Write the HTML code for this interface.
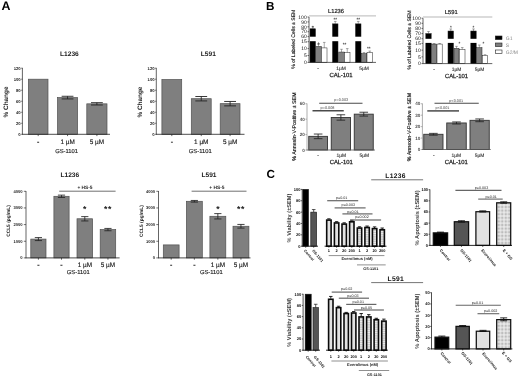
<!DOCTYPE html>
<html><head><meta charset="utf-8"><title>Figure</title>
<style>
html,body{margin:0;padding:0;background:#fff;}
body{width:520px;height:378px;overflow:hidden;}
svg{display:block;font-family:"Liberation Sans",sans-serif;text-rendering:geometricPrecision;filter:blur(0.4px);}
</style></head><body>
<svg width="520" height="378" viewBox="0 0 520 378">
<rect width="520" height="378" fill="#fff"/>
<text x="1.60" y="10.20" font-size="12.4" text-anchor="start" font-weight="bold" fill="#000">A</text>
<text x="266.10" y="10.20" font-size="11.7" text-anchor="start" font-weight="bold" fill="#000">B</text>
<text x="266.50" y="178.10" font-size="11.7" text-anchor="start" font-weight="bold" fill="#000">C</text>
<text x="69.40" y="55.50" font-size="6.6" text-anchor="middle" font-weight="bold" fill="#222">L1236</text>
<rect x="28.40" y="79.20" width="19.60" height="55.10" fill="#7f7f7f" stroke="#505050" stroke-width="0.7"/>
<rect x="57.50" y="97.60" width="20.10" height="36.70" fill="#7f7f7f" stroke="#505050" stroke-width="0.7"/>
<line x1="67.55" y1="96.28" x2="67.55" y2="98.93" stroke="#222" stroke-width="0.9"/>
<line x1="61.65" y1="96.28" x2="73.45" y2="96.28" stroke="#222" stroke-width="0.9"/>
<line x1="61.65" y1="98.93" x2="73.45" y2="98.93" stroke="#222" stroke-width="0.9"/>
<rect x="86.80" y="103.83" width="20.20" height="30.47" fill="#7f7f7f" stroke="#505050" stroke-width="0.7"/>
<line x1="96.90" y1="102.67" x2="96.90" y2="104.99" stroke="#222" stroke-width="0.9"/>
<line x1="91.00" y1="102.67" x2="102.80" y2="102.67" stroke="#222" stroke-width="0.9"/>
<line x1="91.00" y1="104.99" x2="102.80" y2="104.99" stroke="#222" stroke-width="0.9"/>
<line x1="22.40" y1="67.88" x2="22.40" y2="134.60" stroke="#222" stroke-width="0.7"/>
<line x1="21.20" y1="134.30" x2="22.40" y2="134.30" stroke="#222" stroke-width="0.63"/>
<text x="20.70" y="135.77" font-size="4.2" text-anchor="end" font-weight="bold" fill="#222">0</text>
<line x1="21.20" y1="123.28" x2="22.40" y2="123.28" stroke="#222" stroke-width="0.63"/>
<text x="20.70" y="124.75" font-size="4.2" text-anchor="end" font-weight="bold" fill="#222">20</text>
<line x1="21.20" y1="112.26" x2="22.40" y2="112.26" stroke="#222" stroke-width="0.63"/>
<text x="20.70" y="113.73" font-size="4.2" text-anchor="end" font-weight="bold" fill="#222">40</text>
<line x1="21.20" y1="101.24" x2="22.40" y2="101.24" stroke="#222" stroke-width="0.63"/>
<text x="20.70" y="102.71" font-size="4.2" text-anchor="end" font-weight="bold" fill="#222">60</text>
<line x1="21.20" y1="90.22" x2="22.40" y2="90.22" stroke="#222" stroke-width="0.63"/>
<text x="20.70" y="91.69" font-size="4.2" text-anchor="end" font-weight="bold" fill="#222">80</text>
<line x1="21.20" y1="79.20" x2="22.40" y2="79.20" stroke="#222" stroke-width="0.63"/>
<text x="20.70" y="80.67" font-size="4.2" text-anchor="end" font-weight="bold" fill="#222">100</text>
<line x1="21.20" y1="68.18" x2="22.40" y2="68.18" stroke="#222" stroke-width="0.63"/>
<text x="20.70" y="69.65" font-size="4.2" text-anchor="end" font-weight="bold" fill="#222">120</text>
<line x1="22.10" y1="134.30" x2="110.00" y2="134.30" stroke="#222" stroke-width="0.8"/>
<line x1="38.20" y1="134.30" x2="38.20" y2="136.10" stroke="#222" stroke-width="0.7"/>
<line x1="67.55" y1="134.30" x2="67.55" y2="136.10" stroke="#222" stroke-width="0.7"/>
<line x1="96.90" y1="134.30" x2="96.90" y2="136.10" stroke="#222" stroke-width="0.7"/>
<text x="38.20" y="144.40" font-size="7.0" text-anchor="middle" font-weight="bold" fill="#222" stroke="#222" stroke-width="0.15">-</text>
<text x="67.55" y="144.40" font-size="6.4" text-anchor="middle" font-weight="normal" fill="#222" stroke="#222" stroke-width="0.15">1 µM</text>
<text x="96.90" y="144.40" font-size="6.4" text-anchor="middle" font-weight="normal" fill="#222" stroke="#222" stroke-width="0.15">5 µM</text>
<text x="66.55" y="153.30" font-size="5.8" text-anchor="middle" font-weight="normal" fill="#222" stroke="#222" stroke-width="0.15">GS-1101</text>
<text x="7.60" y="102.00" font-size="6.4" text-anchor="middle" font-weight="bold" fill="#222" transform="rotate(-90 7.60 102.00)">% Change</text>
<text x="208.30" y="55.50" font-size="6.6" text-anchor="middle" font-weight="bold" fill="#222">L591</text>
<rect x="161.90" y="79.53" width="19.80" height="54.77" fill="#7f7f7f" stroke="#505050" stroke-width="0.7"/>
<rect x="191.30" y="98.71" width="19.90" height="35.59" fill="#7f7f7f" stroke="#505050" stroke-width="0.7"/>
<line x1="201.25" y1="96.50" x2="201.25" y2="100.91" stroke="#222" stroke-width="0.9"/>
<line x1="195.35" y1="96.50" x2="207.15" y2="96.50" stroke="#222" stroke-width="0.9"/>
<line x1="195.35" y1="100.91" x2="207.15" y2="100.91" stroke="#222" stroke-width="0.9"/>
<rect x="220.20" y="103.66" width="19.80" height="30.64" fill="#7f7f7f" stroke="#505050" stroke-width="0.7"/>
<line x1="230.10" y1="101.46" x2="230.10" y2="105.87" stroke="#222" stroke-width="0.9"/>
<line x1="224.20" y1="101.46" x2="236.00" y2="101.46" stroke="#222" stroke-width="0.9"/>
<line x1="224.20" y1="105.87" x2="236.00" y2="105.87" stroke="#222" stroke-width="0.9"/>
<line x1="156.30" y1="67.88" x2="156.30" y2="134.60" stroke="#222" stroke-width="0.7"/>
<line x1="155.10" y1="134.30" x2="156.30" y2="134.30" stroke="#222" stroke-width="0.63"/>
<text x="154.60" y="135.77" font-size="4.2" text-anchor="end" font-weight="bold" fill="#222">0</text>
<line x1="155.10" y1="123.28" x2="156.30" y2="123.28" stroke="#222" stroke-width="0.63"/>
<text x="154.60" y="124.75" font-size="4.2" text-anchor="end" font-weight="bold" fill="#222">20</text>
<line x1="155.10" y1="112.26" x2="156.30" y2="112.26" stroke="#222" stroke-width="0.63"/>
<text x="154.60" y="113.73" font-size="4.2" text-anchor="end" font-weight="bold" fill="#222">40</text>
<line x1="155.10" y1="101.24" x2="156.30" y2="101.24" stroke="#222" stroke-width="0.63"/>
<text x="154.60" y="102.71" font-size="4.2" text-anchor="end" font-weight="bold" fill="#222">60</text>
<line x1="155.10" y1="90.22" x2="156.30" y2="90.22" stroke="#222" stroke-width="0.63"/>
<text x="154.60" y="91.69" font-size="4.2" text-anchor="end" font-weight="bold" fill="#222">80</text>
<line x1="155.10" y1="79.20" x2="156.30" y2="79.20" stroke="#222" stroke-width="0.63"/>
<text x="154.60" y="80.67" font-size="4.2" text-anchor="end" font-weight="bold" fill="#222">100</text>
<line x1="155.10" y1="68.18" x2="156.30" y2="68.18" stroke="#222" stroke-width="0.63"/>
<text x="154.60" y="69.65" font-size="4.2" text-anchor="end" font-weight="bold" fill="#222">120</text>
<line x1="156.00" y1="134.30" x2="244.50" y2="134.30" stroke="#222" stroke-width="0.8"/>
<line x1="171.80" y1="134.30" x2="171.80" y2="136.10" stroke="#222" stroke-width="0.7"/>
<line x1="201.25" y1="134.30" x2="201.25" y2="136.10" stroke="#222" stroke-width="0.7"/>
<line x1="230.10" y1="134.30" x2="230.10" y2="136.10" stroke="#222" stroke-width="0.7"/>
<text x="171.80" y="144.40" font-size="7.0" text-anchor="middle" font-weight="bold" fill="#222" stroke="#222" stroke-width="0.15">-</text>
<text x="201.25" y="144.40" font-size="6.4" text-anchor="middle" font-weight="normal" fill="#222" stroke="#222" stroke-width="0.15">1 µM</text>
<text x="230.10" y="144.40" font-size="6.4" text-anchor="middle" font-weight="normal" fill="#222" stroke="#222" stroke-width="0.15">5 µM</text>
<text x="200.25" y="153.30" font-size="5.8" text-anchor="middle" font-weight="normal" fill="#222" stroke="#222" stroke-width="0.15">GS-1101</text>
<text x="142.20" y="102.00" font-size="6.4" text-anchor="middle" font-weight="bold" fill="#222" transform="rotate(-90 142.20 102.00)">% Change</text>
<text x="69.80" y="176.80" font-size="6.6" text-anchor="middle" font-weight="bold" fill="#222">L1236</text>
<text x="85.00" y="188.60" font-size="4.8" text-anchor="middle" font-weight="bold" fill="#222">+ HS-5</text>
<line x1="59.20" y1="191.20" x2="115.60" y2="191.20" stroke="#333" stroke-width="0.7"/>
<rect x="30.80" y="239.09" width="15.20" height="18.81" fill="#7f7f7f" stroke="#505050" stroke-width="0.7"/>
<line x1="38.40" y1="237.59" x2="38.40" y2="240.58" stroke="#222" stroke-width="0.85"/>
<line x1="34.80" y1="237.59" x2="42.00" y2="237.59" stroke="#222" stroke-width="0.85"/>
<line x1="34.80" y1="240.58" x2="42.00" y2="240.58" stroke="#222" stroke-width="0.85"/>
<rect x="53.90" y="196.30" width="15.20" height="61.60" fill="#7f7f7f" stroke="#505050" stroke-width="0.7"/>
<line x1="61.50" y1="195.13" x2="61.50" y2="197.46" stroke="#222" stroke-width="0.85"/>
<line x1="57.90" y1="195.13" x2="65.10" y2="195.13" stroke="#222" stroke-width="0.85"/>
<line x1="57.90" y1="197.46" x2="65.10" y2="197.46" stroke="#222" stroke-width="0.85"/>
<rect x="77.00" y="218.77" width="15.60" height="39.13" fill="#7f7f7f" stroke="#505050" stroke-width="0.7"/>
<line x1="84.80" y1="216.61" x2="84.80" y2="220.94" stroke="#222" stroke-width="0.85"/>
<line x1="81.20" y1="216.61" x2="88.40" y2="216.61" stroke="#222" stroke-width="0.85"/>
<line x1="81.20" y1="220.94" x2="88.40" y2="220.94" stroke="#222" stroke-width="0.85"/>
<rect x="100.20" y="229.59" width="15.50" height="28.30" fill="#7f7f7f" stroke="#505050" stroke-width="0.7"/>
<line x1="107.95" y1="228.43" x2="107.95" y2="230.76" stroke="#222" stroke-width="0.85"/>
<line x1="104.35" y1="228.43" x2="111.55" y2="228.43" stroke="#222" stroke-width="0.85"/>
<line x1="104.35" y1="230.76" x2="111.55" y2="230.76" stroke="#222" stroke-width="0.85"/>
<line x1="26.00" y1="191.00" x2="26.00" y2="258.20" stroke="#222" stroke-width="0.7"/>
<line x1="23.80" y1="257.90" x2="26.00" y2="257.90" stroke="#222" stroke-width="0.63"/>
<text x="22.60" y="259.33" font-size="4.1" text-anchor="end" font-weight="bold" fill="#222">0</text>
<line x1="23.80" y1="241.25" x2="26.00" y2="241.25" stroke="#222" stroke-width="0.63"/>
<text x="22.60" y="242.69" font-size="4.1" text-anchor="end" font-weight="bold" fill="#222">1000</text>
<line x1="23.80" y1="224.60" x2="26.00" y2="224.60" stroke="#222" stroke-width="0.63"/>
<text x="22.60" y="226.03" font-size="4.1" text-anchor="end" font-weight="bold" fill="#222">2000</text>
<line x1="23.80" y1="207.95" x2="26.00" y2="207.95" stroke="#222" stroke-width="0.63"/>
<text x="22.60" y="209.38" font-size="4.1" text-anchor="end" font-weight="bold" fill="#222">3000</text>
<line x1="23.80" y1="191.30" x2="26.00" y2="191.30" stroke="#222" stroke-width="0.63"/>
<text x="22.60" y="192.74" font-size="4.1" text-anchor="end" font-weight="bold" fill="#222">4000</text>
<line x1="25.70" y1="257.90" x2="119.60" y2="257.90" stroke="#222" stroke-width="0.8"/>
<line x1="38.40" y1="257.90" x2="38.40" y2="259.70" stroke="#222" stroke-width="0.7"/>
<line x1="61.50" y1="257.90" x2="61.50" y2="259.70" stroke="#222" stroke-width="0.7"/>
<line x1="84.80" y1="257.90" x2="84.80" y2="259.70" stroke="#222" stroke-width="0.7"/>
<line x1="107.95" y1="257.90" x2="107.95" y2="259.70" stroke="#222" stroke-width="0.7"/>
<text x="38.40" y="267.20" font-size="7.0" text-anchor="middle" font-weight="bold" fill="#222" stroke="#222" stroke-width="0.15">-</text>
<text x="61.50" y="267.20" font-size="7.0" text-anchor="middle" font-weight="bold" fill="#222" stroke="#222" stroke-width="0.15">-</text>
<text x="84.80" y="267.20" font-size="6.4" text-anchor="middle" font-weight="normal" fill="#222" stroke="#222" stroke-width="0.15">1 µM</text>
<text x="107.95" y="267.20" font-size="6.4" text-anchor="middle" font-weight="normal" fill="#222" stroke="#222" stroke-width="0.15">5 µM</text>
<text x="78.25" y="274.30" font-size="5.8" text-anchor="middle" font-weight="normal" fill="#222" stroke="#222" stroke-width="0.15">GS-1101</text>
<text x="10.40" y="221.00" font-size="4.85" text-anchor="middle" font-weight="bold" fill="#222" transform="rotate(-90 10.40 221.00)">CCL5 (pg/mL)</text>
<text x="84.80" y="212.20" font-size="8.6" text-anchor="middle" font-weight="bold" fill="#222">*</text>
<text x="107.95" y="212.20" font-size="8.6" text-anchor="middle" font-weight="bold" fill="#222" letter-spacing="0.6">**</text>
<text x="209.00" y="176.80" font-size="6.6" text-anchor="middle" font-weight="bold" fill="#222">L591</text>
<text x="216.90" y="188.60" font-size="4.8" text-anchor="middle" font-weight="bold" fill="#222">+ HS-5</text>
<line x1="191.60" y1="191.20" x2="246.50" y2="191.20" stroke="#333" stroke-width="0.7"/>
<rect x="163.30" y="244.91" width="15.80" height="12.99" fill="#7f7f7f" stroke="#505050" stroke-width="0.7"/>
<rect x="186.40" y="201.29" width="15.90" height="56.61" fill="#7f7f7f" stroke="#505050" stroke-width="0.7"/>
<line x1="194.35" y1="200.46" x2="194.35" y2="202.12" stroke="#222" stroke-width="0.85"/>
<line x1="190.75" y1="200.46" x2="197.95" y2="200.46" stroke="#222" stroke-width="0.85"/>
<line x1="190.75" y1="202.12" x2="197.95" y2="202.12" stroke="#222" stroke-width="0.85"/>
<rect x="209.90" y="216.28" width="15.90" height="41.62" fill="#7f7f7f" stroke="#505050" stroke-width="0.7"/>
<line x1="217.85" y1="213.61" x2="217.85" y2="218.94" stroke="#222" stroke-width="0.85"/>
<line x1="214.25" y1="213.61" x2="221.45" y2="213.61" stroke="#222" stroke-width="0.85"/>
<line x1="214.25" y1="218.94" x2="221.45" y2="218.94" stroke="#222" stroke-width="0.85"/>
<rect x="233.00" y="226.26" width="15.90" height="31.63" fill="#7f7f7f" stroke="#505050" stroke-width="0.7"/>
<line x1="240.95" y1="224.43" x2="240.95" y2="228.10" stroke="#222" stroke-width="0.85"/>
<line x1="237.35" y1="224.43" x2="244.55" y2="224.43" stroke="#222" stroke-width="0.85"/>
<line x1="237.35" y1="228.10" x2="244.55" y2="228.10" stroke="#222" stroke-width="0.85"/>
<line x1="158.50" y1="191.00" x2="158.50" y2="258.20" stroke="#222" stroke-width="0.7"/>
<line x1="156.30" y1="257.90" x2="158.50" y2="257.90" stroke="#222" stroke-width="0.63"/>
<text x="155.10" y="259.33" font-size="4.1" text-anchor="end" font-weight="bold" fill="#222">0</text>
<line x1="156.30" y1="241.25" x2="158.50" y2="241.25" stroke="#222" stroke-width="0.63"/>
<text x="155.10" y="242.69" font-size="4.1" text-anchor="end" font-weight="bold" fill="#222">1000</text>
<line x1="156.30" y1="224.60" x2="158.50" y2="224.60" stroke="#222" stroke-width="0.63"/>
<text x="155.10" y="226.03" font-size="4.1" text-anchor="end" font-weight="bold" fill="#222">2000</text>
<line x1="156.30" y1="207.95" x2="158.50" y2="207.95" stroke="#222" stroke-width="0.63"/>
<text x="155.10" y="209.38" font-size="4.1" text-anchor="end" font-weight="bold" fill="#222">3000</text>
<line x1="156.30" y1="191.30" x2="158.50" y2="191.30" stroke="#222" stroke-width="0.63"/>
<text x="155.10" y="192.74" font-size="4.1" text-anchor="end" font-weight="bold" fill="#222">4000</text>
<line x1="158.20" y1="257.90" x2="250.50" y2="257.90" stroke="#222" stroke-width="0.8"/>
<line x1="171.20" y1="257.90" x2="171.20" y2="259.70" stroke="#222" stroke-width="0.7"/>
<line x1="194.35" y1="257.90" x2="194.35" y2="259.70" stroke="#222" stroke-width="0.7"/>
<line x1="217.85" y1="257.90" x2="217.85" y2="259.70" stroke="#222" stroke-width="0.7"/>
<line x1="240.95" y1="257.90" x2="240.95" y2="259.70" stroke="#222" stroke-width="0.7"/>
<text x="171.20" y="267.20" font-size="7.0" text-anchor="middle" font-weight="bold" fill="#222" stroke="#222" stroke-width="0.15">-</text>
<text x="194.35" y="267.20" font-size="7.0" text-anchor="middle" font-weight="bold" fill="#222" stroke="#222" stroke-width="0.15">-</text>
<text x="217.85" y="267.20" font-size="6.4" text-anchor="middle" font-weight="normal" fill="#222" stroke="#222" stroke-width="0.15">1 µM</text>
<text x="240.95" y="267.20" font-size="6.4" text-anchor="middle" font-weight="normal" fill="#222" stroke="#222" stroke-width="0.15">5 µM</text>
<text x="211.30" y="274.30" font-size="5.8" text-anchor="middle" font-weight="normal" fill="#222" stroke="#222" stroke-width="0.15">GS-1101</text>
<text x="142.60" y="221.00" font-size="4.85" text-anchor="middle" font-weight="bold" fill="#222" transform="rotate(-90 142.60 221.00)">CCL5 (pg/mL)</text>
<text x="217.85" y="212.20" font-size="8.6" text-anchor="middle" font-weight="bold" fill="#222">*</text>
<text x="240.95" y="212.20" font-size="8.6" text-anchor="middle" font-weight="bold" fill="#222" letter-spacing="0.6">**</text>
<text x="336.00" y="13.30" font-size="5.8" text-anchor="middle" font-weight="normal" fill="#222" stroke="#222" stroke-width="0.2">L1236</text>
<line x1="309.00" y1="15.90" x2="376.00" y2="15.90" stroke="#9a9a9a" stroke-width="0.7"/>
<line x1="312.75" y1="26.80" x2="312.75" y2="28.76" stroke="#555" stroke-width="0.5"/>
<line x1="311.45" y1="26.80" x2="314.05" y2="26.80" stroke="#555" stroke-width="0.5"/>
<rect x="310.00" y="28.76" width="5.50" height="33.64" fill="#000" stroke="#222" stroke-width="0.5"/>
<line x1="318.50" y1="44.32" x2="318.50" y2="46.39" stroke="#555" stroke-width="0.5"/>
<line x1="317.20" y1="44.32" x2="319.80" y2="44.32" stroke="#555" stroke-width="0.5"/>
<rect x="315.75" y="46.39" width="5.50" height="16.01" fill="#7f7f7f" stroke="#222" stroke-width="0.5"/>
<line x1="324.25" y1="42.39" x2="324.25" y2="47.91" stroke="#555" stroke-width="0.5"/>
<line x1="322.95" y1="42.39" x2="325.55" y2="42.39" stroke="#555" stroke-width="0.5"/>
<rect x="321.50" y="47.91" width="5.50" height="14.49" fill="#fff" stroke="#222" stroke-width="0.5"/>
<line x1="335.25" y1="21.41" x2="335.25" y2="23.86" stroke="#555" stroke-width="0.5"/>
<line x1="333.95" y1="21.41" x2="336.55" y2="21.41" stroke="#555" stroke-width="0.5"/>
<rect x="332.50" y="23.86" width="5.50" height="38.54" fill="#000" stroke="#222" stroke-width="0.5"/>
<line x1="341.50" y1="49.29" x2="341.50" y2="52.05" stroke="#555" stroke-width="0.5"/>
<line x1="340.20" y1="49.29" x2="342.80" y2="49.29" stroke="#555" stroke-width="0.5"/>
<rect x="338.75" y="52.05" width="5.50" height="10.35" fill="#7f7f7f" stroke="#222" stroke-width="0.5"/>
<line x1="347.25" y1="48.60" x2="347.25" y2="52.74" stroke="#555" stroke-width="0.5"/>
<line x1="345.95" y1="48.60" x2="348.55" y2="48.60" stroke="#555" stroke-width="0.5"/>
<rect x="344.50" y="52.74" width="5.50" height="9.66" fill="#fff" stroke="#222" stroke-width="0.5"/>
<line x1="358.25" y1="21.41" x2="358.25" y2="23.86" stroke="#555" stroke-width="0.5"/>
<line x1="356.95" y1="21.41" x2="359.55" y2="21.41" stroke="#555" stroke-width="0.5"/>
<rect x="355.50" y="23.86" width="5.50" height="38.54" fill="#000" stroke="#222" stroke-width="0.5"/>
<line x1="364.00" y1="52.60" x2="364.00" y2="53.71" stroke="#555" stroke-width="0.5"/>
<line x1="362.70" y1="52.60" x2="365.30" y2="52.60" stroke="#555" stroke-width="0.5"/>
<rect x="361.25" y="53.71" width="5.50" height="8.69" fill="#7f7f7f" stroke="#222" stroke-width="0.5"/>
<line x1="369.75" y1="51.08" x2="369.75" y2="52.74" stroke="#555" stroke-width="0.5"/>
<line x1="368.45" y1="51.08" x2="371.05" y2="51.08" stroke="#555" stroke-width="0.5"/>
<rect x="367.00" y="52.74" width="5.50" height="9.66" fill="#fff" stroke="#222" stroke-width="0.5"/>
<rect x="309.60" y="36.70" width="66.00" height="4.50" fill="#fff"/>
<line x1="309.00" y1="17.00" x2="309.00" y2="62.40" stroke="#222" stroke-width="0.7"/>
<line x1="307.50" y1="62.40" x2="309.00" y2="62.40" stroke="#222" stroke-width="0.6"/>
<text x="306.70" y="64.10" font-size="5.0" text-anchor="end" font-weight="normal" fill="#111">0</text>
<line x1="307.50" y1="55.50" x2="309.00" y2="55.50" stroke="#222" stroke-width="0.6"/>
<text x="306.70" y="57.20" font-size="5.0" text-anchor="end" font-weight="normal" fill="#111">5</text>
<line x1="307.50" y1="48.60" x2="309.00" y2="48.60" stroke="#222" stroke-width="0.6"/>
<text x="306.70" y="50.30" font-size="5.0" text-anchor="end" font-weight="normal" fill="#111">10</text>
<line x1="307.50" y1="41.70" x2="309.00" y2="41.70" stroke="#222" stroke-width="0.6"/>
<text x="306.70" y="43.40" font-size="5.0" text-anchor="end" font-weight="normal" fill="#111">15</text>
<line x1="307.50" y1="36.60" x2="309.00" y2="36.60" stroke="#222" stroke-width="0.6"/>
<text x="306.70" y="38.30" font-size="5.0" text-anchor="end" font-weight="normal" fill="#111">60</text>
<line x1="307.50" y1="31.70" x2="309.00" y2="31.70" stroke="#222" stroke-width="0.6"/>
<text x="306.70" y="33.40" font-size="5.0" text-anchor="end" font-weight="normal" fill="#111">70</text>
<line x1="307.50" y1="26.80" x2="309.00" y2="26.80" stroke="#222" stroke-width="0.6"/>
<text x="306.70" y="28.50" font-size="5.0" text-anchor="end" font-weight="normal" fill="#111">80</text>
<line x1="307.50" y1="21.90" x2="309.00" y2="21.90" stroke="#222" stroke-width="0.6"/>
<text x="306.70" y="23.60" font-size="5.0" text-anchor="end" font-weight="normal" fill="#111">90</text>
<line x1="307.50" y1="17.00" x2="309.00" y2="17.00" stroke="#222" stroke-width="0.6"/>
<text x="306.70" y="18.70" font-size="5.0" text-anchor="end" font-weight="normal" fill="#111">100</text>
<line x1="308.70" y1="62.40" x2="376.00" y2="62.40" stroke="#222" stroke-width="0.7"/>
<text x="312.80" y="29.00" font-size="4.6" text-anchor="middle" font-weight="bold" fill="#333">*</text>
<text x="335.20" y="21.40" font-size="4.6" text-anchor="middle" font-weight="bold" fill="#333">**</text>
<text x="358.20" y="21.40" font-size="4.6" text-anchor="middle" font-weight="bold" fill="#333">**</text>
<text x="318.50" y="44.50" font-size="4.6" text-anchor="middle" font-weight="bold" fill="#333">+</text>
<text x="344.50" y="45.50" font-size="4.6" text-anchor="middle" font-weight="bold" fill="#333">**</text>
<text x="368.80" y="49.80" font-size="4.6" text-anchor="middle" font-weight="bold" fill="#333">**</text>
<text x="318.00" y="69.60" font-size="4.9" text-anchor="middle" font-weight="normal" fill="#333" stroke="#333" stroke-width="0.12">-</text>
<text x="341.00" y="69.60" font-size="4.9" text-anchor="middle" font-weight="normal" fill="#333" stroke="#333" stroke-width="0.12">1µM</text>
<text x="364.00" y="69.60" font-size="4.9" text-anchor="middle" font-weight="normal" fill="#333" stroke="#333" stroke-width="0.12">5µM</text>
<text x="341.00" y="76.60" font-size="5.9" text-anchor="middle" font-weight="normal" fill="#222" stroke="#222" stroke-width="0.25">CAL-101</text>
<text x="294.80" y="39.20" font-size="5.1" text-anchor="middle" font-weight="normal" fill="#111" transform="rotate(-90 294.80 39.20)" stroke="#111" stroke-width="0.15">% of Labeled Cells ± SEM</text>
<text x="451.20" y="14.40" font-size="5.8" text-anchor="middle" font-weight="normal" fill="#222" stroke="#222" stroke-width="0.2">L591</text>
<line x1="423.00" y1="17.00" x2="492.30" y2="17.00" stroke="#9a9a9a" stroke-width="0.7"/>
<line x1="428.50" y1="31.53" x2="428.50" y2="33.58" stroke="#555" stroke-width="0.5"/>
<line x1="427.20" y1="31.53" x2="429.80" y2="31.53" stroke="#555" stroke-width="0.5"/>
<rect x="425.80" y="33.58" width="5.40" height="30.02" fill="#000" stroke="#222" stroke-width="0.5"/>
<line x1="434.10" y1="43.53" x2="434.10" y2="44.07" stroke="#555" stroke-width="0.5"/>
<line x1="432.80" y1="43.53" x2="435.40" y2="43.53" stroke="#555" stroke-width="0.5"/>
<rect x="431.60" y="44.07" width="5.00" height="19.53" fill="#7f7f7f" stroke="#222" stroke-width="0.5"/>
<line x1="439.60" y1="43.53" x2="439.60" y2="44.07" stroke="#555" stroke-width="0.5"/>
<line x1="438.30" y1="43.53" x2="440.90" y2="43.53" stroke="#555" stroke-width="0.5"/>
<rect x="437.00" y="44.07" width="5.20" height="19.53" fill="#fff" stroke="#222" stroke-width="0.5"/>
<line x1="450.75" y1="28.96" x2="450.75" y2="31.01" stroke="#555" stroke-width="0.5"/>
<line x1="449.45" y1="28.96" x2="452.05" y2="28.96" stroke="#555" stroke-width="0.5"/>
<rect x="448.00" y="31.01" width="5.50" height="32.59" fill="#000" stroke="#222" stroke-width="0.5"/>
<line x1="456.50" y1="46.36" x2="456.50" y2="48.38" stroke="#555" stroke-width="0.5"/>
<line x1="455.20" y1="46.36" x2="457.80" y2="46.36" stroke="#555" stroke-width="0.5"/>
<rect x="454.00" y="48.38" width="5.00" height="15.22" fill="#7f7f7f" stroke="#222" stroke-width="0.5"/>
<line x1="462.25" y1="47.57" x2="462.25" y2="49.59" stroke="#555" stroke-width="0.5"/>
<line x1="460.95" y1="47.57" x2="463.55" y2="47.57" stroke="#555" stroke-width="0.5"/>
<rect x="459.50" y="49.59" width="5.50" height="14.01" fill="#fff" stroke="#222" stroke-width="0.5"/>
<line x1="473.50" y1="28.96" x2="473.50" y2="31.01" stroke="#555" stroke-width="0.5"/>
<line x1="472.20" y1="28.96" x2="474.80" y2="28.96" stroke="#555" stroke-width="0.5"/>
<rect x="470.80" y="31.01" width="5.40" height="32.59" fill="#000" stroke="#222" stroke-width="0.5"/>
<line x1="479.30" y1="45.02" x2="479.30" y2="47.71" stroke="#555" stroke-width="0.5"/>
<line x1="478.00" y1="45.02" x2="480.60" y2="45.02" stroke="#555" stroke-width="0.5"/>
<rect x="476.60" y="47.71" width="5.40" height="15.89" fill="#7f7f7f" stroke="#222" stroke-width="0.5"/>
<line x1="485.05" y1="54.71" x2="485.05" y2="55.52" stroke="#555" stroke-width="0.5"/>
<line x1="483.75" y1="54.71" x2="486.35" y2="54.71" stroke="#555" stroke-width="0.5"/>
<rect x="482.40" y="55.52" width="5.30" height="8.08" fill="#fff" stroke="#222" stroke-width="0.5"/>
<rect x="423.60" y="38.80" width="68.30" height="4.10" fill="#fff"/>
<line x1="423.00" y1="18.20" x2="423.00" y2="63.60" stroke="#222" stroke-width="0.7"/>
<line x1="421.50" y1="63.60" x2="423.00" y2="63.60" stroke="#222" stroke-width="0.6"/>
<text x="420.70" y="65.30" font-size="5.0" text-anchor="end" font-weight="normal" fill="#111">0</text>
<line x1="421.50" y1="56.87" x2="423.00" y2="56.87" stroke="#222" stroke-width="0.6"/>
<text x="420.70" y="58.57" font-size="5.0" text-anchor="end" font-weight="normal" fill="#111">5</text>
<line x1="421.50" y1="50.13" x2="423.00" y2="50.13" stroke="#222" stroke-width="0.6"/>
<text x="420.70" y="51.83" font-size="5.0" text-anchor="end" font-weight="normal" fill="#111">10</text>
<line x1="421.50" y1="43.40" x2="423.00" y2="43.40" stroke="#222" stroke-width="0.6"/>
<text x="420.70" y="45.10" font-size="5.0" text-anchor="end" font-weight="normal" fill="#111">15</text>
<line x1="421.50" y1="38.70" x2="423.00" y2="38.70" stroke="#222" stroke-width="0.6"/>
<text x="420.70" y="40.40" font-size="5.0" text-anchor="end" font-weight="normal" fill="#111">60</text>
<line x1="421.50" y1="33.58" x2="423.00" y2="33.58" stroke="#222" stroke-width="0.6"/>
<text x="420.70" y="35.28" font-size="5.0" text-anchor="end" font-weight="normal" fill="#111">70</text>
<line x1="421.50" y1="28.45" x2="423.00" y2="28.45" stroke="#222" stroke-width="0.6"/>
<text x="420.70" y="30.15" font-size="5.0" text-anchor="end" font-weight="normal" fill="#111">80</text>
<line x1="421.50" y1="23.32" x2="423.00" y2="23.32" stroke="#222" stroke-width="0.6"/>
<text x="420.70" y="25.02" font-size="5.0" text-anchor="end" font-weight="normal" fill="#111">90</text>
<line x1="421.50" y1="18.20" x2="423.00" y2="18.20" stroke="#222" stroke-width="0.6"/>
<text x="420.70" y="19.90" font-size="5.0" text-anchor="end" font-weight="normal" fill="#111">100</text>
<line x1="422.70" y1="63.60" x2="492.30" y2="63.60" stroke="#222" stroke-width="0.7"/>
<text x="450.80" y="29.20" font-size="4.6" text-anchor="middle" font-weight="bold" fill="#333">*</text>
<text x="473.40" y="29.20" font-size="4.6" text-anchor="middle" font-weight="bold" fill="#333">*</text>
<text x="459.50" y="44.50" font-size="4.6" text-anchor="middle" font-weight="bold" fill="#333">*</text>
<text x="483.50" y="44.50" font-size="4.6" text-anchor="middle" font-weight="bold" fill="#333">*</text>
<text x="434.00" y="70.60" font-size="4.9" text-anchor="middle" font-weight="normal" fill="#333" stroke="#333" stroke-width="0.12">-</text>
<text x="456.50" y="70.60" font-size="4.9" text-anchor="middle" font-weight="normal" fill="#333" stroke="#333" stroke-width="0.12">1µM</text>
<text x="479.60" y="70.60" font-size="4.9" text-anchor="middle" font-weight="normal" fill="#333" stroke="#333" stroke-width="0.12">5µM</text>
<text x="456.50" y="77.60" font-size="5.9" text-anchor="middle" font-weight="normal" fill="#222" stroke="#222" stroke-width="0.25">CAL-101</text>
<text x="410.50" y="40.00" font-size="5.1" text-anchor="middle" font-weight="normal" fill="#111" transform="rotate(-90 410.50 40.00)" stroke="#111" stroke-width="0.15">% of Labeled Cells ± SEM</text>
<rect x="495.30" y="36.00" width="6.70" height="3.60" fill="#000" stroke="#222" stroke-width="0.6"/>
<text x="505.80" y="39.60" font-size="5.0" text-anchor="start" font-weight="normal" fill="#8a8a8a">G1</text>
<rect x="495.30" y="43.00" width="6.70" height="3.60" fill="#7f7f7f" stroke="#222" stroke-width="0.6"/>
<text x="505.80" y="46.60" font-size="5.0" text-anchor="start" font-weight="normal" fill="#8a8a8a">S</text>
<rect x="495.30" y="50.00" width="6.70" height="3.60" fill="#fff" stroke="#222" stroke-width="0.6"/>
<text x="505.80" y="53.60" font-size="5.0" text-anchor="start" font-weight="normal" fill="#8a8a8a">G2/M</text>
<rect x="308.75" y="136.36" width="18.75" height="13.64" fill="#7f7f7f" stroke="#333" stroke-width="0.9"/>
<line x1="318.12" y1="134.04" x2="318.12" y2="138.67" stroke="#222" stroke-width="0.85"/>
<line x1="313.82" y1="134.04" x2="322.43" y2="134.04" stroke="#222" stroke-width="0.85"/>
<line x1="313.82" y1="138.67" x2="322.43" y2="138.67" stroke="#222" stroke-width="0.85"/>
<rect x="331.25" y="117.47" width="19.25" height="32.53" fill="#7f7f7f" stroke="#333" stroke-width="0.9"/>
<line x1="340.88" y1="114.77" x2="340.88" y2="120.17" stroke="#222" stroke-width="0.85"/>
<line x1="336.57" y1="114.77" x2="345.18" y2="114.77" stroke="#222" stroke-width="0.85"/>
<line x1="336.57" y1="120.17" x2="345.18" y2="120.17" stroke="#222" stroke-width="0.85"/>
<rect x="354.25" y="114.16" width="19.00" height="35.84" fill="#7f7f7f" stroke="#333" stroke-width="0.9"/>
<line x1="363.75" y1="112.23" x2="363.75" y2="116.08" stroke="#222" stroke-width="0.85"/>
<line x1="359.45" y1="112.23" x2="368.05" y2="112.23" stroke="#222" stroke-width="0.85"/>
<line x1="359.45" y1="116.08" x2="368.05" y2="116.08" stroke="#222" stroke-width="0.85"/>
<line x1="307.00" y1="103.45" x2="307.00" y2="150.30" stroke="#8a8a8a" stroke-width="0.7"/>
<line x1="305.40" y1="150.00" x2="307.00" y2="150.00" stroke="#8a8a8a" stroke-width="0.63"/>
<text x="304.90" y="151.61" font-size="4.6" text-anchor="end" font-weight="bold" fill="#555">0</text>
<line x1="305.40" y1="134.58" x2="307.00" y2="134.58" stroke="#8a8a8a" stroke-width="0.63"/>
<text x="304.90" y="136.19" font-size="4.6" text-anchor="end" font-weight="bold" fill="#555">20</text>
<line x1="305.40" y1="119.17" x2="307.00" y2="119.17" stroke="#8a8a8a" stroke-width="0.63"/>
<text x="304.90" y="120.78" font-size="4.6" text-anchor="end" font-weight="bold" fill="#555">40</text>
<line x1="305.40" y1="103.75" x2="307.00" y2="103.75" stroke="#8a8a8a" stroke-width="0.63"/>
<text x="304.90" y="105.36" font-size="4.6" text-anchor="end" font-weight="bold" fill="#555">60</text>
<line x1="306.70" y1="150.00" x2="375.00" y2="150.00" stroke="#555" stroke-width="0.8"/>
<text x="341.25" y="101.30" font-size="3.8" text-anchor="middle" font-weight="normal" fill="#444">p=0.003</text>
<line x1="319.20" y1="103.30" x2="362.50" y2="103.30" stroke="#4a4a4a" stroke-width="1.1"/>
<text x="327.50" y="108.80" font-size="3.8" text-anchor="middle" font-weight="normal" fill="#444">p=0.008</text>
<line x1="312.50" y1="110.75" x2="343.75" y2="110.75" stroke="#4a4a4a" stroke-width="1.5"/>
<text x="318.00" y="156.60" font-size="4.9" text-anchor="middle" font-weight="normal" fill="#333" stroke="#333" stroke-width="0.12">-</text>
<text x="341.25" y="156.60" font-size="4.9" text-anchor="middle" font-weight="normal" fill="#333" stroke="#333" stroke-width="0.12">1µM</text>
<text x="364.25" y="156.60" font-size="4.9" text-anchor="middle" font-weight="normal" fill="#333" stroke="#333" stroke-width="0.12">5µM</text>
<text x="341.25" y="164.00" font-size="5.9" text-anchor="middle" font-weight="normal" fill="#222" stroke="#222" stroke-width="0.25">CAL-101</text>
<text x="295.60" y="126.50" font-size="5.35" text-anchor="middle" font-weight="normal" fill="#111" transform="rotate(-90 295.60 126.50)" stroke="#111" stroke-width="0.15">% Annexin-V-Positive ± SEM</text>
<rect x="423.75" y="134.29" width="19.25" height="15.21" fill="#7f7f7f" stroke="#333" stroke-width="0.9"/>
<line x1="433.38" y1="133.37" x2="433.38" y2="135.20" stroke="#222" stroke-width="0.85"/>
<line x1="429.07" y1="133.37" x2="437.68" y2="133.37" stroke="#222" stroke-width="0.85"/>
<line x1="429.07" y1="135.20" x2="437.68" y2="135.20" stroke="#222" stroke-width="0.85"/>
<rect x="446.75" y="122.97" width="19.50" height="26.53" fill="#7f7f7f" stroke="#333" stroke-width="0.9"/>
<line x1="456.50" y1="121.94" x2="456.50" y2="123.99" stroke="#222" stroke-width="0.85"/>
<line x1="452.20" y1="121.94" x2="460.80" y2="121.94" stroke="#222" stroke-width="0.85"/>
<line x1="452.20" y1="123.99" x2="460.80" y2="123.99" stroke="#222" stroke-width="0.85"/>
<rect x="470.00" y="120.33" width="19.25" height="29.17" fill="#7f7f7f" stroke="#333" stroke-width="0.9"/>
<line x1="479.62" y1="118.96" x2="479.62" y2="121.71" stroke="#222" stroke-width="0.85"/>
<line x1="475.32" y1="118.96" x2="483.93" y2="118.96" stroke="#222" stroke-width="0.85"/>
<line x1="475.32" y1="121.71" x2="483.93" y2="121.71" stroke="#222" stroke-width="0.85"/>
<line x1="422.40" y1="103.45" x2="422.40" y2="149.80" stroke="#8a8a8a" stroke-width="0.7"/>
<line x1="420.80" y1="149.50" x2="422.40" y2="149.50" stroke="#8a8a8a" stroke-width="0.63"/>
<text x="420.30" y="151.11" font-size="4.6" text-anchor="end" font-weight="bold" fill="#555">0</text>
<line x1="420.80" y1="138.06" x2="422.40" y2="138.06" stroke="#8a8a8a" stroke-width="0.63"/>
<text x="420.30" y="139.67" font-size="4.6" text-anchor="end" font-weight="bold" fill="#555">10</text>
<line x1="420.80" y1="126.62" x2="422.40" y2="126.62" stroke="#8a8a8a" stroke-width="0.63"/>
<text x="420.30" y="128.24" font-size="4.6" text-anchor="end" font-weight="bold" fill="#555">20</text>
<line x1="420.80" y1="115.19" x2="422.40" y2="115.19" stroke="#8a8a8a" stroke-width="0.63"/>
<text x="420.30" y="116.80" font-size="4.6" text-anchor="end" font-weight="bold" fill="#555">30</text>
<line x1="420.80" y1="103.75" x2="422.40" y2="103.75" stroke="#8a8a8a" stroke-width="0.63"/>
<text x="420.30" y="105.36" font-size="4.6" text-anchor="end" font-weight="bold" fill="#555">40</text>
<line x1="422.10" y1="149.50" x2="490.75" y2="149.50" stroke="#555" stroke-width="0.8"/>
<text x="456.25" y="101.70" font-size="3.8" text-anchor="middle" font-weight="normal" fill="#444">p&lt;0.001</text>
<line x1="434.50" y1="103.25" x2="478.75" y2="103.25" stroke="#4a4a4a" stroke-width="1.1"/>
<text x="442.50" y="108.90" font-size="3.8" text-anchor="middle" font-weight="normal" fill="#444">p&lt;0.001</text>
<line x1="427.30" y1="110.90" x2="459.00" y2="110.90" stroke="#4a4a4a" stroke-width="1.5"/>
<text x="433.75" y="157.00" font-size="4.9" text-anchor="middle" font-weight="normal" fill="#333" stroke="#333" stroke-width="0.12">-</text>
<text x="456.25" y="157.00" font-size="4.9" text-anchor="middle" font-weight="normal" fill="#333" stroke="#333" stroke-width="0.12">1µM</text>
<text x="479.50" y="157.00" font-size="4.9" text-anchor="middle" font-weight="normal" fill="#333" stroke="#333" stroke-width="0.12">5µM</text>
<text x="456.25" y="164.20" font-size="5.9" text-anchor="middle" font-weight="normal" fill="#222" stroke="#222" stroke-width="0.25">CAL-101</text>
<text x="410.60" y="127.00" font-size="5.35" text-anchor="middle" font-weight="normal" fill="#111" transform="rotate(-90 410.60 127.00)" stroke="#111" stroke-width="0.15">% Annexin-V-Positive ± SEM</text>
<defs><pattern id="hz" width="3.5" height="3.6" patternUnits="userSpaceOnUse"><rect width="3.5" height="3.6" fill="#f4f4f4"/><rect x="0.5" y="0.5" width="2.5" height="2.6" fill="#bcbcbc"/></pattern><pattern id="hz2" width="600" height="2.2" patternUnits="userSpaceOnUse"><rect width="600" height="2.2" fill="#cacaca"/><rect y="0" width="600" height="0.8" fill="#ececec"/></pattern></defs>
<rect x="302.90" y="189.40" width="5.60" height="56.80" fill="#000" stroke="#111" stroke-width="0.6"/>
<line x1="313.70" y1="209.56" x2="313.70" y2="212.12" stroke="#111" stroke-width="0.7"/>
<line x1="311.90" y1="209.56" x2="315.50" y2="209.56" stroke="#111" stroke-width="0.7"/>
<rect x="310.80" y="212.12" width="5.80" height="34.08" fill="#555" stroke="#111" stroke-width="0.6"/>
<line x1="328.90" y1="218.82" x2="328.90" y2="219.50" stroke="#111" stroke-width="0.9"/>
<line x1="327.20" y1="218.82" x2="330.60" y2="218.82" stroke="#111" stroke-width="0.9"/>
<rect x="326.70" y="220.10" width="4.40" height="26.10" fill="#e2e2e2" stroke="#0a0a0a" stroke-width="1.6"/>
<line x1="336.60" y1="221.66" x2="336.60" y2="222.34" stroke="#111" stroke-width="0.9"/>
<line x1="334.90" y1="221.66" x2="338.30" y2="221.66" stroke="#111" stroke-width="0.9"/>
<rect x="334.40" y="222.94" width="4.40" height="23.26" fill="#e2e2e2" stroke="#0a0a0a" stroke-width="1.6"/>
<line x1="344.20" y1="222.80" x2="344.20" y2="223.48" stroke="#111" stroke-width="0.9"/>
<line x1="342.50" y1="222.80" x2="345.90" y2="222.80" stroke="#111" stroke-width="0.9"/>
<rect x="342.00" y="224.08" width="4.40" height="22.12" fill="#e2e2e2" stroke="#0a0a0a" stroke-width="1.6"/>
<line x1="351.80" y1="220.30" x2="351.80" y2="221.21" stroke="#111" stroke-width="0.9"/>
<line x1="350.10" y1="220.30" x2="353.50" y2="220.30" stroke="#111" stroke-width="0.9"/>
<rect x="349.60" y="221.81" width="4.40" height="24.39" fill="#e2e2e2" stroke="#0a0a0a" stroke-width="1.6"/>
<line x1="359.50" y1="226.77" x2="359.50" y2="227.46" stroke="#111" stroke-width="0.9"/>
<line x1="357.80" y1="226.77" x2="361.20" y2="226.77" stroke="#111" stroke-width="0.9"/>
<rect x="357.30" y="228.06" width="4.40" height="18.14" fill="url(#hz2)" stroke="#0a0a0a" stroke-width="1.6"/>
<line x1="367.10" y1="226.04" x2="367.10" y2="226.89" stroke="#111" stroke-width="0.9"/>
<line x1="365.40" y1="226.04" x2="368.80" y2="226.04" stroke="#111" stroke-width="0.9"/>
<rect x="364.90" y="227.49" width="4.40" height="18.71" fill="url(#hz2)" stroke="#0a0a0a" stroke-width="1.6"/>
<line x1="374.60" y1="226.89" x2="374.60" y2="228.02" stroke="#111" stroke-width="0.9"/>
<line x1="372.90" y1="226.89" x2="376.30" y2="226.89" stroke="#111" stroke-width="0.9"/>
<rect x="372.40" y="228.62" width="4.40" height="17.58" fill="url(#hz2)" stroke="#0a0a0a" stroke-width="1.6"/>
<line x1="382.20" y1="228.02" x2="382.20" y2="229.16" stroke="#111" stroke-width="0.9"/>
<line x1="380.50" y1="228.02" x2="383.90" y2="228.02" stroke="#111" stroke-width="0.9"/>
<rect x="380.00" y="229.76" width="4.40" height="16.44" fill="url(#hz2)" stroke="#0a0a0a" stroke-width="1.6"/>
<line x1="302.20" y1="189.10" x2="302.20" y2="246.50" stroke="#222" stroke-width="0.8"/>
<line x1="300.90" y1="246.20" x2="302.20" y2="246.20" stroke="#222" stroke-width="0.7200000000000001"/>
<text x="300.40" y="247.60" font-size="4.0" text-anchor="end" font-weight="bold" fill="#111">0</text>
<line x1="300.90" y1="234.84" x2="302.20" y2="234.84" stroke="#222" stroke-width="0.7200000000000001"/>
<text x="300.40" y="236.24" font-size="4.0" text-anchor="end" font-weight="bold" fill="#111">20</text>
<line x1="300.90" y1="223.48" x2="302.20" y2="223.48" stroke="#222" stroke-width="0.7200000000000001"/>
<text x="300.40" y="224.88" font-size="4.0" text-anchor="end" font-weight="bold" fill="#111">40</text>
<line x1="300.90" y1="212.12" x2="302.20" y2="212.12" stroke="#222" stroke-width="0.7200000000000001"/>
<text x="300.40" y="213.52" font-size="4.0" text-anchor="end" font-weight="bold" fill="#111">60</text>
<line x1="300.90" y1="200.76" x2="302.20" y2="200.76" stroke="#222" stroke-width="0.7200000000000001"/>
<text x="300.40" y="202.16" font-size="4.0" text-anchor="end" font-weight="bold" fill="#111">80</text>
<line x1="300.90" y1="189.40" x2="302.20" y2="189.40" stroke="#222" stroke-width="0.7200000000000001"/>
<text x="300.40" y="190.80" font-size="4.0" text-anchor="end" font-weight="bold" fill="#111">100</text>
<line x1="301.80" y1="246.20" x2="318.00" y2="246.20" stroke="#111" stroke-width="0.9"/>
<line x1="324.60" y1="246.20" x2="386.50" y2="246.20" stroke="#111" stroke-width="0.9"/>
<line x1="305.70" y1="246.20" x2="305.70" y2="247.70" stroke="#111" stroke-width="0.7"/>
<line x1="313.70" y1="246.20" x2="313.70" y2="247.70" stroke="#111" stroke-width="0.7"/>
<line x1="328.90" y1="246.20" x2="328.90" y2="247.70" stroke="#111" stroke-width="0.7"/>
<line x1="336.60" y1="246.20" x2="336.60" y2="247.70" stroke="#111" stroke-width="0.7"/>
<line x1="344.20" y1="246.20" x2="344.20" y2="247.70" stroke="#111" stroke-width="0.7"/>
<line x1="351.80" y1="246.20" x2="351.80" y2="247.70" stroke="#111" stroke-width="0.7"/>
<line x1="359.50" y1="246.20" x2="359.50" y2="247.70" stroke="#111" stroke-width="0.7"/>
<line x1="367.10" y1="246.20" x2="367.10" y2="247.70" stroke="#111" stroke-width="0.7"/>
<line x1="374.60" y1="246.20" x2="374.60" y2="247.70" stroke="#111" stroke-width="0.7"/>
<line x1="382.20" y1="246.20" x2="382.20" y2="247.70" stroke="#111" stroke-width="0.7"/>
<text x="341.70" y="199.20" font-size="3.7" text-anchor="middle" font-weight="normal" fill="#222">p=0.01</text>
<line x1="327.20" y1="200.70" x2="358.20" y2="200.70" stroke="#666" stroke-width="1.2"/>
<text x="348.30" y="205.90" font-size="3.7" text-anchor="middle" font-weight="normal" fill="#222">p=0.003</text>
<line x1="334.60" y1="207.90" x2="365.60" y2="207.90" stroke="#666" stroke-width="1.2"/>
<text x="353.00" y="212.50" font-size="3.7" text-anchor="middle" font-weight="normal" fill="#222">p=0.01</text>
<line x1="342.40" y1="213.90" x2="372.50" y2="213.90" stroke="#666" stroke-width="1.2"/>
<text x="362.00" y="218.30" font-size="3.7" text-anchor="middle" font-weight="normal" fill="#222">p=0.002</text>
<line x1="350.10" y1="220.00" x2="381.10" y2="220.00" stroke="#666" stroke-width="1.2"/>
<text x="328.90" y="252.20" font-size="3.9" text-anchor="middle" font-weight="bold" fill="#111">1</text>
<text x="336.60" y="252.20" font-size="3.9" text-anchor="middle" font-weight="bold" fill="#111">2</text>
<text x="344.20" y="252.20" font-size="3.9" text-anchor="middle" font-weight="bold" fill="#111">20</text>
<text x="351.80" y="252.20" font-size="3.9" text-anchor="middle" font-weight="bold" fill="#111">200</text>
<text x="359.50" y="252.20" font-size="3.9" text-anchor="middle" font-weight="bold" fill="#111">1</text>
<text x="367.10" y="252.20" font-size="3.9" text-anchor="middle" font-weight="bold" fill="#111">2</text>
<text x="374.60" y="252.20" font-size="3.9" text-anchor="middle" font-weight="bold" fill="#111">20</text>
<text x="382.20" y="252.20" font-size="3.9" text-anchor="middle" font-weight="bold" fill="#111">200</text>
<line x1="328.70" y1="255.60" x2="384.40" y2="255.60" stroke="#444" stroke-width="0.6"/>
<text x="357.00" y="260.20" font-size="4.0" text-anchor="middle" font-weight="bold" fill="#222">Everolimus (nM)</text>
<line x1="357.00" y1="264.90" x2="385.70" y2="264.90" stroke="#444" stroke-width="0.6"/>
<text x="370.80" y="270.30" font-size="3.8" text-anchor="middle" font-weight="bold" fill="#222">GS-1101</text>
<text x="291.30" y="218.00" font-size="5.65" text-anchor="middle" font-weight="bold" fill="#3c3c3c" transform="rotate(-90 291.30 218.00)">% Viability (±SEM)</text>
<text x="303.80" y="250.80" font-size="3.8" text-anchor="start" font-weight="bold" fill="#111" transform="rotate(50 303.80 250.80)">Control</text>
<text x="311.90" y="250.80" font-size="3.8" text-anchor="start" font-weight="bold" fill="#111" transform="rotate(50 311.90 250.80)">GS-1101</text>
<rect x="305.20" y="294.20" width="6.00" height="56.00" fill="#000" stroke="#111" stroke-width="0.6"/>
<line x1="315.70" y1="304.28" x2="315.70" y2="307.64" stroke="#111" stroke-width="0.7"/>
<line x1="313.90" y1="304.28" x2="317.50" y2="304.28" stroke="#111" stroke-width="0.7"/>
<rect x="313.00" y="307.64" width="5.40" height="42.56" fill="#555" stroke="#111" stroke-width="0.6"/>
<line x1="330.80" y1="296.44" x2="330.80" y2="298.68" stroke="#111" stroke-width="0.9"/>
<line x1="329.10" y1="296.44" x2="332.50" y2="296.44" stroke="#111" stroke-width="0.9"/>
<rect x="328.60" y="299.28" width="4.40" height="50.92" fill="#e2e2e2" stroke="#0a0a0a" stroke-width="1.6"/>
<line x1="338.60" y1="306.24" x2="338.60" y2="307.08" stroke="#111" stroke-width="0.9"/>
<line x1="336.90" y1="306.24" x2="340.30" y2="306.24" stroke="#111" stroke-width="0.9"/>
<rect x="336.40" y="307.68" width="4.40" height="42.52" fill="#e2e2e2" stroke="#0a0a0a" stroke-width="1.6"/>
<line x1="346.20" y1="312.40" x2="346.20" y2="312.96" stroke="#111" stroke-width="0.9"/>
<line x1="344.50" y1="312.40" x2="347.90" y2="312.40" stroke="#111" stroke-width="0.9"/>
<rect x="344.00" y="313.56" width="4.40" height="36.64" fill="#e2e2e2" stroke="#0a0a0a" stroke-width="1.6"/>
<line x1="353.70" y1="311.56" x2="353.70" y2="312.40" stroke="#111" stroke-width="0.9"/>
<line x1="352.00" y1="311.56" x2="355.40" y2="311.56" stroke="#111" stroke-width="0.9"/>
<rect x="351.50" y="313.00" width="4.40" height="37.20" fill="#e2e2e2" stroke="#0a0a0a" stroke-width="1.6"/>
<line x1="361.20" y1="313.52" x2="361.20" y2="316.32" stroke="#111" stroke-width="0.9"/>
<line x1="359.50" y1="313.52" x2="362.90" y2="313.52" stroke="#111" stroke-width="0.9"/>
<rect x="359.00" y="316.92" width="4.40" height="33.28" fill="url(#hz2)" stroke="#0a0a0a" stroke-width="1.6"/>
<line x1="368.80" y1="314.64" x2="368.80" y2="316.32" stroke="#111" stroke-width="0.9"/>
<line x1="367.10" y1="314.64" x2="370.50" y2="314.64" stroke="#111" stroke-width="0.9"/>
<rect x="366.60" y="316.92" width="4.40" height="33.28" fill="url(#hz2)" stroke="#0a0a0a" stroke-width="1.6"/>
<line x1="376.30" y1="318.28" x2="376.30" y2="319.12" stroke="#111" stroke-width="0.9"/>
<line x1="374.60" y1="318.28" x2="378.00" y2="318.28" stroke="#111" stroke-width="0.9"/>
<rect x="374.10" y="319.72" width="4.40" height="30.48" fill="url(#hz2)" stroke="#0a0a0a" stroke-width="1.6"/>
<line x1="383.90" y1="319.12" x2="383.90" y2="320.52" stroke="#111" stroke-width="0.9"/>
<line x1="382.20" y1="319.12" x2="385.60" y2="319.12" stroke="#111" stroke-width="0.9"/>
<rect x="381.70" y="321.12" width="4.40" height="29.08" fill="url(#hz2)" stroke="#0a0a0a" stroke-width="1.6"/>
<line x1="303.10" y1="293.90" x2="303.10" y2="350.50" stroke="#222" stroke-width="0.8"/>
<line x1="301.80" y1="350.20" x2="303.10" y2="350.20" stroke="#222" stroke-width="0.7200000000000001"/>
<text x="301.30" y="351.60" font-size="4.0" text-anchor="end" font-weight="bold" fill="#111">0</text>
<line x1="301.80" y1="339.00" x2="303.10" y2="339.00" stroke="#222" stroke-width="0.7200000000000001"/>
<text x="301.30" y="340.40" font-size="4.0" text-anchor="end" font-weight="bold" fill="#111">20</text>
<line x1="301.80" y1="327.80" x2="303.10" y2="327.80" stroke="#222" stroke-width="0.7200000000000001"/>
<text x="301.30" y="329.20" font-size="4.0" text-anchor="end" font-weight="bold" fill="#111">40</text>
<line x1="301.80" y1="316.60" x2="303.10" y2="316.60" stroke="#222" stroke-width="0.7200000000000001"/>
<text x="301.30" y="318.00" font-size="4.0" text-anchor="end" font-weight="bold" fill="#111">60</text>
<line x1="301.80" y1="305.40" x2="303.10" y2="305.40" stroke="#222" stroke-width="0.7200000000000001"/>
<text x="301.30" y="306.80" font-size="4.0" text-anchor="end" font-weight="bold" fill="#111">80</text>
<line x1="301.80" y1="294.20" x2="303.10" y2="294.20" stroke="#222" stroke-width="0.7200000000000001"/>
<text x="301.30" y="295.60" font-size="4.0" text-anchor="end" font-weight="bold" fill="#111">100</text>
<line x1="302.70" y1="350.20" x2="320.00" y2="350.20" stroke="#111" stroke-width="0.9"/>
<line x1="326.00" y1="350.20" x2="387.90" y2="350.20" stroke="#111" stroke-width="0.9"/>
<line x1="308.20" y1="350.20" x2="308.20" y2="351.70" stroke="#111" stroke-width="0.7"/>
<line x1="315.70" y1="350.20" x2="315.70" y2="351.70" stroke="#111" stroke-width="0.7"/>
<line x1="330.80" y1="350.20" x2="330.80" y2="351.70" stroke="#111" stroke-width="0.7"/>
<line x1="338.60" y1="350.20" x2="338.60" y2="351.70" stroke="#111" stroke-width="0.7"/>
<line x1="346.20" y1="350.20" x2="346.20" y2="351.70" stroke="#111" stroke-width="0.7"/>
<line x1="353.70" y1="350.20" x2="353.70" y2="351.70" stroke="#111" stroke-width="0.7"/>
<line x1="361.20" y1="350.20" x2="361.20" y2="351.70" stroke="#111" stroke-width="0.7"/>
<line x1="368.80" y1="350.20" x2="368.80" y2="351.70" stroke="#111" stroke-width="0.7"/>
<line x1="376.30" y1="350.20" x2="376.30" y2="351.70" stroke="#111" stroke-width="0.7"/>
<line x1="383.90" y1="350.20" x2="383.90" y2="351.70" stroke="#111" stroke-width="0.7"/>
<text x="346.70" y="290.40" font-size="3.7" text-anchor="middle" font-weight="normal" fill="#222">p=0.02</text>
<line x1="331.70" y1="292.10" x2="362.10" y2="292.10" stroke="#666" stroke-width="1.2"/>
<text x="352.90" y="296.80" font-size="3.7" text-anchor="middle" font-weight="normal" fill="#222">p=0.03</text>
<line x1="338.80" y1="298.20" x2="369.00" y2="298.20" stroke="#666" stroke-width="1.2"/>
<text x="358.30" y="303.10" font-size="3.7" text-anchor="middle" font-weight="normal" fill="#222">p=0.01</text>
<line x1="346.20" y1="304.40" x2="376.40" y2="304.40" stroke="#666" stroke-width="1.2"/>
<text x="366.40" y="309.00" font-size="3.7" text-anchor="middle" font-weight="normal" fill="#222">p=0.05</text>
<line x1="354.00" y1="310.00" x2="383.90" y2="310.00" stroke="#666" stroke-width="1.2"/>
<text x="330.80" y="357.70" font-size="3.9" text-anchor="middle" font-weight="bold" fill="#111">1</text>
<text x="338.60" y="357.70" font-size="3.9" text-anchor="middle" font-weight="bold" fill="#111">2</text>
<text x="346.20" y="357.70" font-size="3.9" text-anchor="middle" font-weight="bold" fill="#111">20</text>
<text x="353.70" y="357.70" font-size="3.9" text-anchor="middle" font-weight="bold" fill="#111">200</text>
<text x="361.20" y="357.70" font-size="3.9" text-anchor="middle" font-weight="bold" fill="#111">1</text>
<text x="368.80" y="357.70" font-size="3.9" text-anchor="middle" font-weight="bold" fill="#111">2</text>
<text x="376.30" y="357.70" font-size="3.9" text-anchor="middle" font-weight="bold" fill="#111">20</text>
<text x="383.90" y="357.70" font-size="3.9" text-anchor="middle" font-weight="bold" fill="#111">200</text>
<line x1="331.40" y1="361.00" x2="387.90" y2="361.00" stroke="#444" stroke-width="0.6"/>
<text x="362.60" y="366.00" font-size="4.0" text-anchor="middle" font-weight="bold" fill="#222">Everolimus (nM)</text>
<line x1="358.80" y1="370.50" x2="389.20" y2="370.50" stroke="#444" stroke-width="0.6"/>
<text x="374.40" y="375.80" font-size="3.8" text-anchor="middle" font-weight="bold" fill="#222">GS-1101</text>
<text x="291.30" y="322.40" font-size="5.65" text-anchor="middle" font-weight="bold" fill="#3c3c3c" transform="rotate(-90 291.30 322.40)">% Viability (±SEM)</text>
<text x="305.60" y="357.00" font-size="3.8" text-anchor="start" font-weight="bold" fill="#111" transform="rotate(50 305.60 357.00)">Control</text>
<text x="313.60" y="357.00" font-size="3.8" text-anchor="start" font-weight="bold" fill="#111" transform="rotate(50 313.60 357.00)">GS-1101</text>
<text x="395.50" y="178.00" font-size="6.7" text-anchor="middle" font-weight="bold" fill="#111" letter-spacing="0.3">L1236</text>
<line x1="371.20" y1="179.80" x2="423.10" y2="179.80" stroke="#666" stroke-width="0.9"/>
<text x="395.80" y="280.50" font-size="6.7" text-anchor="middle" font-weight="bold" fill="#111" letter-spacing="0.3">L591</text>
<line x1="371.20" y1="282.60" x2="423.10" y2="282.60" stroke="#666" stroke-width="0.9"/>
<rect x="433.30" y="232.89" width="14.30" height="12.51" fill="#000" stroke="#111" stroke-width="1.25"/>
<line x1="440.45" y1="232.14" x2="440.45" y2="233.03" stroke="#111" stroke-width="0.9"/>
<line x1="436.95" y1="232.14" x2="443.95" y2="232.14" stroke="#111" stroke-width="0.9"/>
<line x1="436.95" y1="233.03" x2="443.95" y2="233.03" stroke="#111" stroke-width="0.9"/>
<rect x="454.30" y="221.75" width="14.30" height="23.65" fill="#555" stroke="#111" stroke-width="1.25"/>
<line x1="461.45" y1="220.78" x2="461.45" y2="222.12" stroke="#111" stroke-width="0.9"/>
<line x1="457.95" y1="220.78" x2="464.95" y2="220.78" stroke="#111" stroke-width="0.9"/>
<line x1="457.95" y1="222.12" x2="464.95" y2="222.12" stroke="#111" stroke-width="0.9"/>
<rect x="475.90" y="211.72" width="13.70" height="33.68" fill="#e2e2e2" stroke="#111" stroke-width="1.25"/>
<line x1="482.75" y1="210.87" x2="482.75" y2="211.98" stroke="#111" stroke-width="0.9"/>
<line x1="479.25" y1="210.87" x2="486.25" y2="210.87" stroke="#111" stroke-width="0.9"/>
<line x1="479.25" y1="211.98" x2="486.25" y2="211.98" stroke="#111" stroke-width="0.9"/>
<rect x="496.70" y="202.81" width="14.00" height="42.59" fill="url(#hz)" stroke="#111" stroke-width="1.25"/>
<line x1="503.70" y1="201.84" x2="503.70" y2="203.18" stroke="#111" stroke-width="0.9"/>
<line x1="500.20" y1="201.84" x2="507.20" y2="201.84" stroke="#111" stroke-width="0.9"/>
<line x1="500.20" y1="203.18" x2="507.20" y2="203.18" stroke="#111" stroke-width="0.9"/>
<line x1="429.90" y1="189.40" x2="429.90" y2="245.70" stroke="#222" stroke-width="0.8"/>
<line x1="428.60" y1="245.40" x2="429.90" y2="245.40" stroke="#222" stroke-width="0.7200000000000001"/>
<text x="428.10" y="246.80" font-size="4.0" text-anchor="end" font-weight="bold" fill="#111">0</text>
<line x1="428.60" y1="234.26" x2="429.90" y2="234.26" stroke="#222" stroke-width="0.7200000000000001"/>
<text x="428.10" y="235.66" font-size="4.0" text-anchor="end" font-weight="bold" fill="#111">20</text>
<line x1="428.60" y1="223.12" x2="429.90" y2="223.12" stroke="#222" stroke-width="0.7200000000000001"/>
<text x="428.10" y="224.52" font-size="4.0" text-anchor="end" font-weight="bold" fill="#111">40</text>
<line x1="428.60" y1="211.98" x2="429.90" y2="211.98" stroke="#222" stroke-width="0.7200000000000001"/>
<text x="428.10" y="213.38" font-size="4.0" text-anchor="end" font-weight="bold" fill="#111">60</text>
<line x1="428.60" y1="200.84" x2="429.90" y2="200.84" stroke="#222" stroke-width="0.7200000000000001"/>
<text x="428.10" y="202.24" font-size="4.0" text-anchor="end" font-weight="bold" fill="#111">80</text>
<line x1="428.60" y1="189.70" x2="429.90" y2="189.70" stroke="#222" stroke-width="0.7200000000000001"/>
<text x="428.10" y="191.10" font-size="4.0" text-anchor="end" font-weight="bold" fill="#111">100</text>
<line x1="429.50" y1="245.40" x2="512.00" y2="245.40" stroke="#111" stroke-width="0.9"/>
<line x1="440.45" y1="245.40" x2="440.45" y2="246.90" stroke="#111" stroke-width="0.7"/>
<line x1="461.45" y1="245.40" x2="461.45" y2="246.90" stroke="#111" stroke-width="0.7"/>
<line x1="482.75" y1="245.40" x2="482.75" y2="246.90" stroke="#111" stroke-width="0.7"/>
<line x1="503.70" y1="245.40" x2="503.70" y2="246.90" stroke="#111" stroke-width="0.7"/>
<text x="481.50" y="188.60" font-size="3.7" text-anchor="middle" font-weight="normal" fill="#222">p=0.003</text>
<line x1="455.40" y1="190.40" x2="501.50" y2="190.40" stroke="#666" stroke-width="1.1"/>
<text x="491.20" y="197.60" font-size="3.7" text-anchor="middle" font-weight="normal" fill="#222">p=0.01</text>
<line x1="478.20" y1="199.10" x2="502.70" y2="199.10" stroke="#666" stroke-width="1.1"/>
<text x="418.90" y="217.85" font-size="5.7" text-anchor="middle" font-weight="bold" fill="#3c3c3c" transform="rotate(-90 418.90 217.85)">% Apoptosis (±SEM)</text>
<text x="439.50" y="250.50" font-size="3.95" text-anchor="start" font-weight="bold" fill="#111" transform="rotate(50 439.50 250.50)">Control</text>
<text x="460.00" y="250.50" font-size="3.95" text-anchor="start" font-weight="bold" fill="#111" transform="rotate(50 460.00 250.50)">GS-1101</text>
<text x="481.00" y="250.50" font-size="3.95" text-anchor="start" font-weight="bold" fill="#111" transform="rotate(50 481.00 250.50)">Everolimus</text>
<text x="502.50" y="250.50" font-size="3.95" text-anchor="start" font-weight="bold" fill="#111" transform="rotate(50 502.50 250.50)">E + GS</text>
<rect x="435.00" y="337.17" width="13.70" height="11.73" fill="#000" stroke="#111" stroke-width="1.25"/>
<line x1="441.85" y1="336.09" x2="441.85" y2="337.66" stroke="#111" stroke-width="0.9"/>
<line x1="438.35" y1="336.09" x2="445.35" y2="336.09" stroke="#111" stroke-width="0.9"/>
<line x1="438.35" y1="337.66" x2="445.35" y2="337.66" stroke="#111" stroke-width="0.9"/>
<rect x="456.00" y="326.38" width="13.30" height="22.52" fill="#555" stroke="#111" stroke-width="1.25"/>
<line x1="462.65" y1="325.52" x2="462.65" y2="326.64" stroke="#111" stroke-width="0.9"/>
<line x1="459.15" y1="325.52" x2="466.15" y2="325.52" stroke="#111" stroke-width="0.9"/>
<line x1="459.15" y1="326.64" x2="466.15" y2="326.64" stroke="#111" stroke-width="0.9"/>
<rect x="476.30" y="331.22" width="13.40" height="17.68" fill="#e2e2e2" stroke="#111" stroke-width="1.25"/>
<line x1="483.00" y1="330.35" x2="483.00" y2="331.48" stroke="#111" stroke-width="0.9"/>
<line x1="479.50" y1="330.35" x2="486.50" y2="330.35" stroke="#111" stroke-width="0.9"/>
<line x1="479.50" y1="331.48" x2="486.50" y2="331.48" stroke="#111" stroke-width="0.9"/>
<rect x="496.70" y="319.64" width="14.00" height="29.26" fill="url(#hz)" stroke="#111" stroke-width="1.25"/>
<line x1="503.70" y1="317.88" x2="503.70" y2="320.80" stroke="#111" stroke-width="0.9"/>
<line x1="500.20" y1="317.88" x2="507.20" y2="317.88" stroke="#111" stroke-width="0.9"/>
<line x1="500.20" y1="320.80" x2="507.20" y2="320.80" stroke="#111" stroke-width="0.9"/>
<line x1="431.50" y1="292.40" x2="431.50" y2="349.20" stroke="#222" stroke-width="0.8"/>
<line x1="430.20" y1="348.90" x2="431.50" y2="348.90" stroke="#222" stroke-width="0.7200000000000001"/>
<text x="429.70" y="350.30" font-size="4.0" text-anchor="end" font-weight="bold" fill="#111">0</text>
<line x1="430.20" y1="337.66" x2="431.50" y2="337.66" stroke="#222" stroke-width="0.7200000000000001"/>
<text x="429.70" y="339.06" font-size="4.0" text-anchor="end" font-weight="bold" fill="#111">10</text>
<line x1="430.20" y1="326.42" x2="431.50" y2="326.42" stroke="#222" stroke-width="0.7200000000000001"/>
<text x="429.70" y="327.82" font-size="4.0" text-anchor="end" font-weight="bold" fill="#111">20</text>
<line x1="430.20" y1="315.18" x2="431.50" y2="315.18" stroke="#222" stroke-width="0.7200000000000001"/>
<text x="429.70" y="316.58" font-size="4.0" text-anchor="end" font-weight="bold" fill="#111">30</text>
<line x1="430.20" y1="303.94" x2="431.50" y2="303.94" stroke="#222" stroke-width="0.7200000000000001"/>
<text x="429.70" y="305.34" font-size="4.0" text-anchor="end" font-weight="bold" fill="#111">40</text>
<line x1="430.20" y1="292.70" x2="431.50" y2="292.70" stroke="#222" stroke-width="0.7200000000000001"/>
<text x="429.70" y="294.10" font-size="4.0" text-anchor="end" font-weight="bold" fill="#111">50</text>
<line x1="431.10" y1="348.90" x2="512.40" y2="348.90" stroke="#111" stroke-width="0.9"/>
<line x1="441.85" y1="348.90" x2="441.85" y2="350.40" stroke="#111" stroke-width="0.7"/>
<line x1="462.65" y1="348.90" x2="462.65" y2="350.40" stroke="#111" stroke-width="0.7"/>
<line x1="483.00" y1="348.90" x2="483.00" y2="350.40" stroke="#111" stroke-width="0.7"/>
<line x1="503.70" y1="348.90" x2="503.70" y2="350.40" stroke="#111" stroke-width="0.7"/>
<text x="477.50" y="303.70" font-size="3.7" text-anchor="middle" font-weight="normal" fill="#222">p=0.01</text>
<line x1="455.70" y1="305.30" x2="500.80" y2="305.30" stroke="#666" stroke-width="1.1"/>
<text x="490.60" y="312.20" font-size="3.7" text-anchor="middle" font-weight="normal" fill="#222">p=0.002</text>
<line x1="477.50" y1="313.70" x2="499.30" y2="313.70" stroke="#666" stroke-width="1.1"/>
<text x="418.60" y="321.10" font-size="5.7" text-anchor="middle" font-weight="bold" fill="#3c3c3c" transform="rotate(-90 418.60 321.10)">% Apoptosis (±SEM)</text>
<text x="440.20" y="353.40" font-size="3.95" text-anchor="start" font-weight="bold" fill="#111" transform="rotate(50 440.20 353.40)">Control</text>
<text x="461.00" y="353.20" font-size="3.95" text-anchor="start" font-weight="bold" fill="#111" transform="rotate(50 461.00 353.20)">GS-1101</text>
<text x="482.00" y="353.80" font-size="3.95" text-anchor="start" font-weight="bold" fill="#111" transform="rotate(50 482.00 353.80)">Everolimus</text>
<text x="501.80" y="353.00" font-size="3.95" text-anchor="start" font-weight="bold" fill="#111" transform="rotate(50 501.80 353.00)">E + GS</text>
</svg>
</body></html>
